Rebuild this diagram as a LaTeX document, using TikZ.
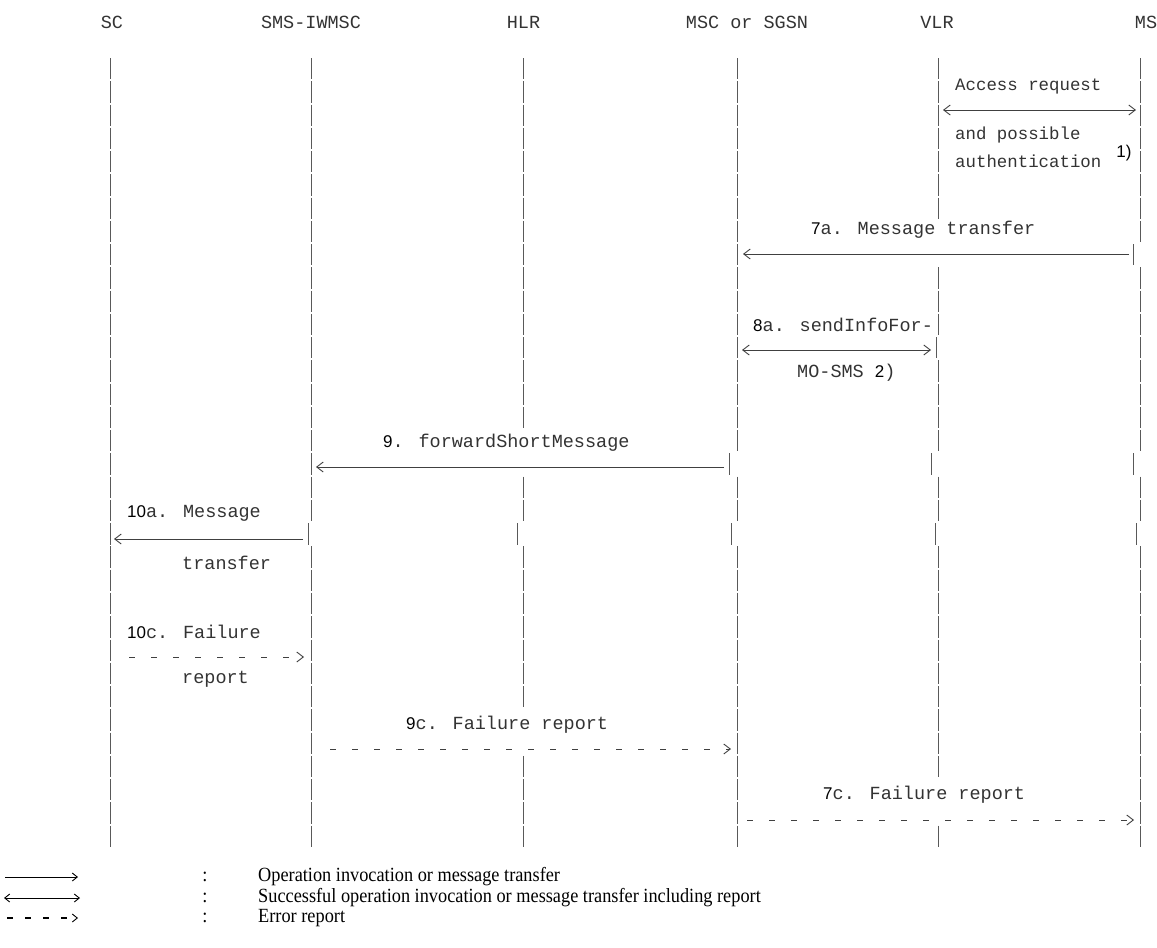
\documentclass[tikz,border=0pt]{standalone}
\usepackage{fontspec}
\setmainfont{Liberation Serif}
\newfontfamily\cour{Liberation Mono}
\newfontfamily\ari{Liberation Sans}
\usetikzlibrary{arrows.meta}
\newcommand\dg[1]{{\ari\fontsize{17}{17}\selectfont\color{black}#1}}
\begin{document}
\begin{tikzpicture}[x=1pt,y=-1pt,
  bar/.style={draw=black!65, line width=0.9pt},
  lbl/.style={font=\cour\fontsize{18.5}{18.5}\selectfont, text=black!80, inner sep=0pt, anchor=west},
  sml/.style={font=\cour\fontsize{17.4}{17.4}\selectfont, text=black!80, inner sep=0pt, anchor=west},
  hdr/.style={font=\cour\fontsize{18.5}{18.5}\selectfont, text=black!80, inner sep=0pt},
  msg/.style={draw=black!75, line width=0.9pt},
  tipR/.style={-{Straight Barb[length=6.5pt,width=10pt,line width=0.9pt]}},
  tipLR/.style={{Straight Barb[length=6.5pt,width=10pt,line width=0.9pt]}-{Straight Barb[length=6.5pt,width=10pt,line width=0.9pt]}},
  err/.style={draw=black!75, line width=0.9pt, dash pattern=on 6pt off 16pt},
  leg/.style={font=\fontsize{18.3}{18.3}\selectfont, inner sep=0pt, anchor=west, yscale=1.1},
  legline/.style={draw=black, line width=0.9pt},
  legtip/.style={-{Straight Barb[length=5pt,width=8pt,line width=0.9pt]}},
  legtipLR/.style={{Straight Barb[length=5pt,width=8pt,line width=0.9pt]}-{Straight Barb[length=5pt,width=8pt,line width=0.9pt]}}
]
\useasboundingbox (0,0) rectangle (1157,948);

% headers
\node[hdr] (hSC)  at (112,22)   {SC};
\node[hdr] (hIW)  at (311,22)   {SMS-IWMSC};
\node[hdr] (hHLR) at (523.5,22) {HLR};
\node[hdr] (hMSC) at (747,22)   {MSC or SGSN};
\node[hdr] (hVLR) at (937,22)   {VLR};
\node[hdr] (hMS)  at (1146,22)  {MS};

% lifelines drawn as character-like bar segments
\newcommand\lb[2]{\draw[bar] (#1,{58+#2*23.26}) -- (#1,{79.3+#2*23.26});}
\foreach \i in {0,...,33}{\lb{110}{\i}}
\foreach \i in {0,...,19,21,22,...,33}{\lb{311}{\i}}
\lb{308}{20}
\foreach \i in {0,...,15,18,19,21,22,23,...,27,30,31,32,33}{\lb{523.5}{\i}}
\lb{517.5}{20}
\foreach \i in {0,...,16,18,19,21,22,...,33}{\lb{737.5}{\i}}
\lb{729.5}{17}\lb{731.5}{20}
\foreach \i in {0,...,6,9,10,11,13,14,15,16,18,19,21,22,...,30,33}{\lb{938.5}{\i}}
\lb{936.5}{12}\lb{931}{17}\lb{935}{20}
\foreach \i in {0,...,7,9,10,...,16,18,19,21,22,...,33}{\lb{1140}{\i}}
\lb{1133}{8}\lb{1133}{17}\lb{1136}{20}

% coordinates for message ends
\coordinate (a1l) at (943,110);  \coordinate (a1r) at (1136,110);
\coordinate (a7s) at (1129,254); \coordinate (a7e) at (743,254);
\coordinate (a8l) at (742,350);  \coordinate (a8r) at (931,350);
\coordinate (a9s) at (724,467);  \coordinate (a9e) at (316,467);
\coordinate (a10s) at (303,539); \coordinate (a10e) at (114,539);
\coordinate (c10s) at (129,657); \coordinate (c10e) at (304,657);
\coordinate (c9s) at (330,749);  \coordinate (c9e) at (731,749);
\coordinate (c7s) at (747,820);  \coordinate (c7e) at (1134,820);

% labels
\node[sml] (tAcc)  at (955,87)  {Access request};
\node[sml] (tAnd)  at (955,135) {and possible};
\node[sml] (tAuth) at (955,161) {authentication};
\node[inner sep=0pt] (t1) at (1124,153) {\dg{1)}};
\node[lbl] (t7a)  at (811,230) {\dg{7}a. Message transfer};
\node[lbl] (t8a)  at (753,325) {\dg{8}a. sendInfoFor-};
\node[lbl] (t8b)  at (797,373) {MO-SMS \dg{2})};
\node[lbl] (t9)   at (383,443) {\dg{9}. forwardShortMessage};
\node[lbl] (t10a) at (127,513) {\dg{10}a. Message};
\node[lbl] (t10b) at (182,563) {transfer};
\node[lbl] (t10c) at (127,632) {\dg{10}c. Failure};
\node[lbl] (t10d) at (182,679) {report};
\node[lbl] (t9c)  at (406,725) {\dg{9}c. Failure report};
\node[lbl] (t7c)  at (823,795) {\dg{7}c. Failure report};

% messages
\draw[msg,tipLR] (a1l) -- (a1r);
\draw[msg,tipR] (a7s) -- (a7e);
\draw[msg,tipLR] (a8l) -- (a8r);
\draw[msg,tipR] (a9s) -- (a9e);
\draw[msg,tipR] (a10s) -- (a10e);
\draw[err,tipR] (c10s) -- (c10e);
\draw[err,tipR] (c9s) -- (c9e);
\draw[err,tipR] (c7s) -- (c7e);

% legend
\coordinate (l1a) at (5,877);  \coordinate (l1b) at (78,877);
\coordinate (l2a) at (4,898);  \coordinate (l2b) at (80,898);
\coordinate (l3a) at (7,918);  \coordinate (l3b) at (78,918);
\draw[legline,legtip] (l1a) -- (l1b);
\draw[legline,legtipLR] (l2a) -- (l2b);
\draw[legline,line width=1.6pt,dash pattern=on 6pt off 12pt,legtip] (l3a) -- (l3b);
\node[leg,anchor=center] (k1) at (205,877) {:};
\node[leg,anchor=center] (k2) at (205,898) {:};
\node[leg,anchor=center] (k3) at (205,918) {:};
\node[leg] (d1) at (258,877) {Operation invocation or message transfer};
\node[leg] (d2) at (258,898) {Successful operation invocation or message transfer including report};
\node[leg] (d3) at (258,918) {Error report};
\end{tikzpicture}
\end{document}
